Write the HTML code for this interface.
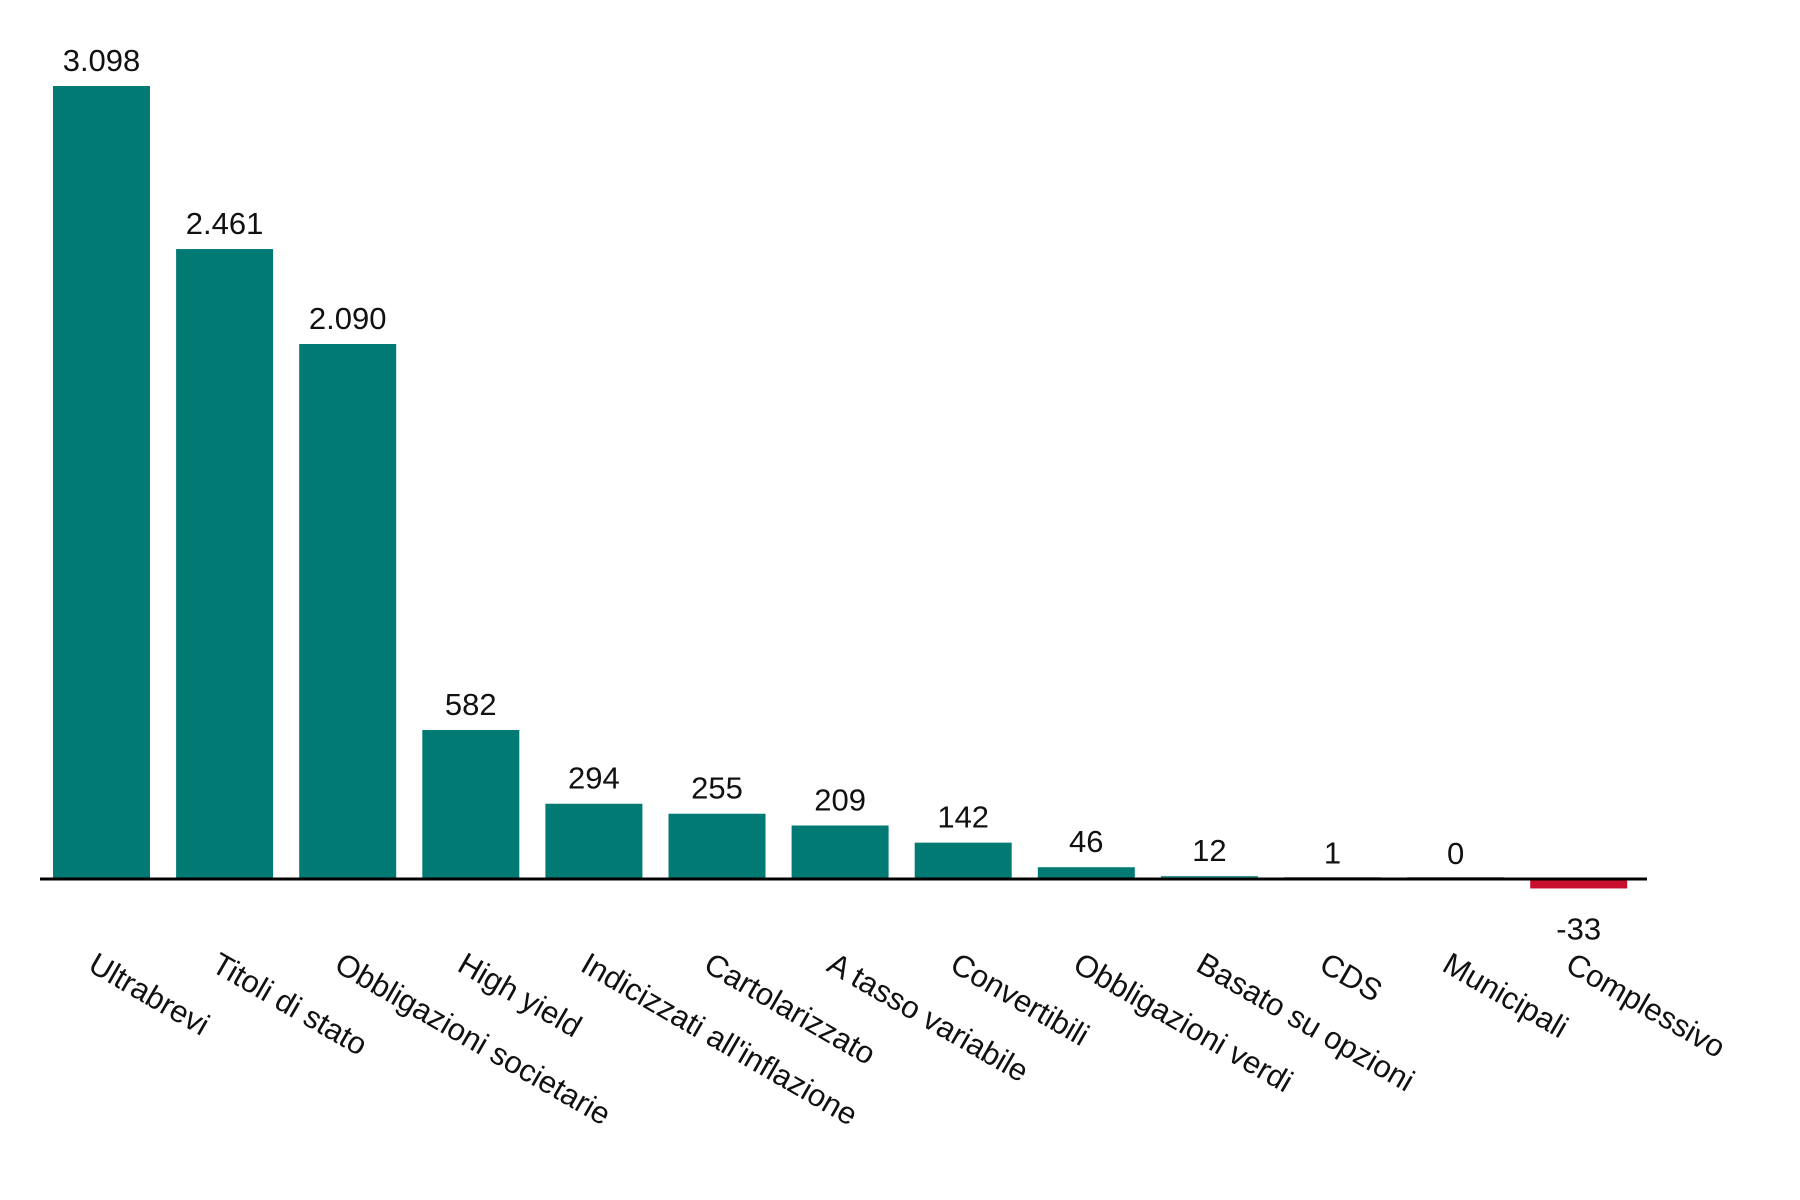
<!DOCTYPE html>
<html><head><meta charset="utf-8"><style>
html,body{margin:0;padding:0;background:#fff;}
svg{display:block;font-family:"Liberation Sans",sans-serif;}
</style></head><body>
<svg id="chart" width="1800" height="1200" viewBox="0 0 1800 1200">
<g id="bars"></g>
<g id="vals"></g>
<g id="cats"></g>
<line x1="40" x2="1647" y1="879" y2="879" stroke="#000" stroke-width="3"/>
</svg>
<script>
const categories = ["Ultrabrevi","Titoli di stato","Obbligazioni societarie","High yield","Indicizzati all'inflazione","Cartolarizzato","A tasso variabile","Convertibili","Obbligazioni verdi","Basato su opzioni","CDS","Municipali","Complessivo"];
const values = [3098,2461,2090,582,294,255,209,142,46,12,1,0,-33];
const valueLabels = ["3.098","2.461","2.090","582","294","255","209","142","46","12","1","0","-33"];
const NS="http://www.w3.org/2000/svg";
const zeroY=879, pxPerUnit=793/3098, x0=53, pitch=123.1, bw=97;
function xPos(i){return x0+i*pitch;}
function yPos(v){return zeroY - v*pxPerUnit;}
const gb=document.getElementById('bars'),gv=document.getElementById('vals'),gc=document.getElementById('cats');
values.forEach((v,i)=>{
  const r=document.createElementNS(NS,'rect');
  const y1=yPos(Math.max(v,0)), y2=yPos(Math.min(v,0));
  let h=y2-y1; if(h<2)h=2;
  r.setAttribute('x',xPos(i)); r.setAttribute('y',v<0?zeroY+1:Math.min(y1,zeroY-2)); r.setAttribute('width',bw); r.setAttribute('height',v<0?h:h);
  r.setAttribute('fill',v<0?'#C8102E':(v<5?'#a9b4b6':(v<20?'#3a9a94':'#007A73')));
  
  
  gb.appendChild(r);
  const t=document.createElementNS(NS,'text');
  t.setAttribute('x',xPos(i)+bw/2);
  t.setAttribute('y',v<0?yPos(v)+52:yPos(v)-15);
  t.setAttribute('text-anchor','middle'); t.setAttribute('font-size','31'); t.setAttribute('fill','#111');
  t.textContent=valueLabels[i];
  
  
  gv.appendChild(t);
  const c=document.createElementNS(NS,'text');
  const cx=xPos(i)+bw/2-15, cy=970;
  c.setAttribute('x',cx); c.setAttribute('y',cy);
  c.setAttribute('transform','rotate(30 '+cx+' '+cy+')');
  c.setAttribute('font-size','31'); c.setAttribute('fill','#111');
  c.textContent=categories[i];
  
  
  gc.appendChild(c);
});
</script>
</body></html>
